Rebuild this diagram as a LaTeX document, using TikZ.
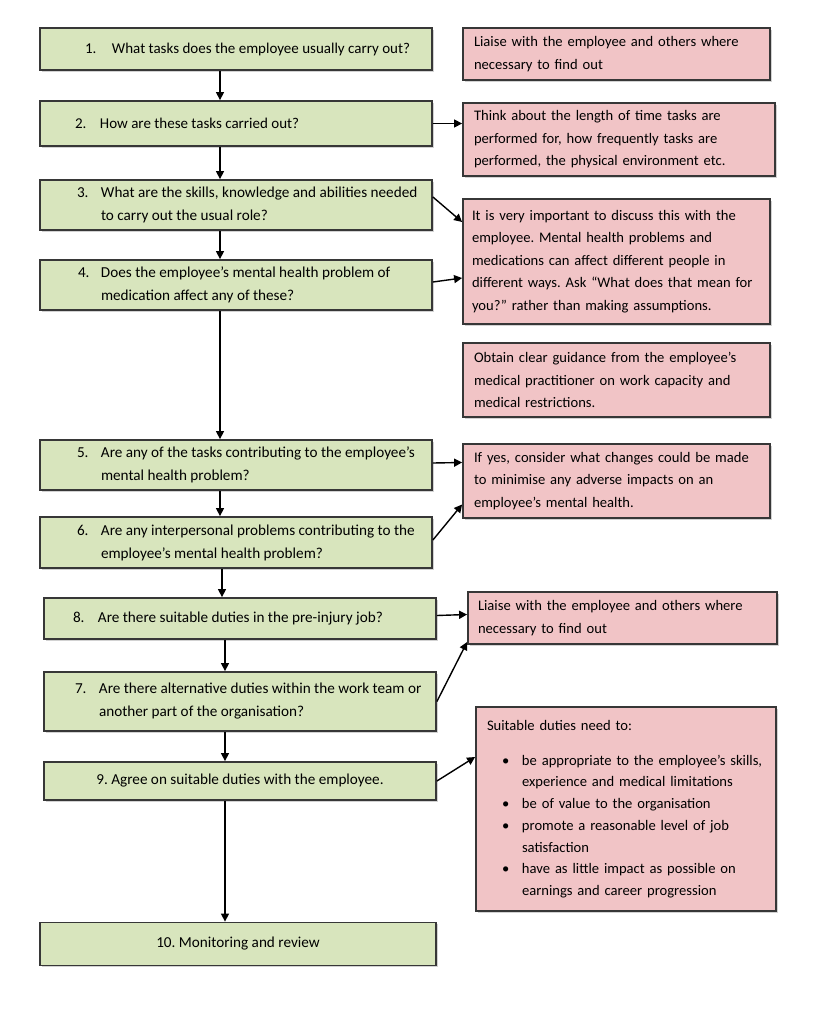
\documentclass[tikz,border=0pt]{standalone}
\usepackage{fontspec}
\setmainfont{Carlito}
\usetikzlibrary{arrows.meta,shadows,calc}
\definecolor{gfill}{RGB}{216,229,189}
\definecolor{pfill}{RGB}{241,196,198}
\definecolor{bord}{RGB}{55,55,55}
\frenchspacing
% numbered item in a green box: #1 box width, #2 lead, #3 number width, #4 number, #5 text
\newcommand{\qitem}[5]{\makebox[#1][l]{\hspace*{#2}\makebox[#3][l]{#4}\parbox[t]{\dimexpr#1-#2-#3\relax}{\raggedright #5}}}
\newcommand{\bitem}[1]{\hangindent=35pt\hangafter=1\hspace*{15pt}\makebox[20pt][l]{\textbullet}#1\par}
\begin{document}
\begin{tikzpicture}[x=1pt,y=-1pt,
  box/.style={draw=bord, line width=1.8pt, rectangle, inner ysep=0pt,
    font=\fontsize{15.2}{23}\selectfont,
    drop shadow={shadow xshift=1.5pt, shadow yshift=-1.5pt, opacity=0.35}},
  gbox/.style={box, fill=gfill, inner xsep=0pt},
  pbox/.style={box, fill=pfill, align=left, inner xsep=11pt,
    font=\fontsize{14.6}{22.5}\selectfont},
  arr/.style={line width=1.4pt, -{Triangle[length=8pt,width=8pt]}}]
\useasboundingbox[fill=white] (0,0) rectangle (816,1017);

% green boxes
\node[gbox, minimum width=392pt, minimum height=42pt, font=\fontsize{15}{23}\selectfont] (b1) at (236,49)
  {\qitem{392pt}{45pt}{27pt}{1.}{What tasks does the employee usually carry out?}};
\node[gbox, minimum width=392pt, minimum height=45pt, font=\fontsize{15}{23}\selectfont] (b2) at (236,123.5)
  {\qitem{392pt}{35pt}{25pt}{2.}{How are these tasks carried out?}};
\node[gbox, minimum width=392pt, minimum height=50pt] (b3) at (236,205)
  {\qitem{392pt}{37pt}{24pt}{3.}{What are the skills, knowledge and abilities needed\\to carry out the usual role?}};
\node[gbox, minimum width=392pt, minimum height=50pt] (b4) at (236,285)
  {\qitem{392pt}{38pt}{23pt}{4.}{Does the employee’s mental health problem of\\medication affect any of these?}};
\node[gbox, minimum width=392pt, minimum height=50pt] (b5) at (236,465)
  {\qitem{392pt}{37pt}{24pt}{5.}{Are any of the tasks contributing to the employee’s\\mental health problem?}};
\node[gbox, minimum width=392pt, minimum height=51pt] (b6) at (236,542.5)
  {\qitem{392pt}{37pt}{24pt}{6.}{Are any interpersonal problems contributing to the\\employee’s mental health problem?}};
\node[gbox, minimum width=392pt, minimum height=41pt] (b8) at (240,618.5)
  {\qitem{392pt}{29pt}{25pt}{8.}{Are there suitable duties in the pre-injury job?}};
\node[gbox, minimum width=392pt, minimum height=59pt] (b7) at (240,701.5)
  {\qitem{392pt}{31pt}{24pt}{7.}{Are there alternative duties within the work team or\\another part of the organisation?}};
\node[gbox, minimum width=392pt, minimum height=38pt] (b9) at (240,781)
  {9. Agree on suitable duties with the employee.};
\node[gbox, minimum width=396pt, minimum height=43pt] (b10) at (238,944)
  {10. Monitoring and review};

% pink boxes
\node[pbox, text width=285pt, minimum height=52pt] (pA) at (616.5,54)
  {Liaise with the employee and others where\\necessary to find out};
\node[pbox, text width=290pt, minimum height=73pt] (pB) at (619,139.5)
  {Think about the length of time tasks are\\performed for, how frequently tasks are\\performed, the physical environment etc.};
\node[pbox, inner xsep=9pt, text width=289pt, minimum height=125pt] (pC) at (616.5,261.5)
  {It is very important to discuss this with the\\employee. Mental health problems and\\medications can affect different people in\\different ways. Ask “What does that mean for\\you?” rather than making assumptions.};
\node[pbox, text width=285pt, minimum height=74pt] (pD) at (616.5,380)
  {Obtain clear guidance from the employee’s\\medical practitioner on work capacity and\\medical restrictions.};
\node[pbox, text width=285pt, minimum height=74pt] (pE) at (616.5,481)
  {If yes, consider what changes could be made\\to minimise any adverse impacts on an\\employee’s mental health.};
\node[pbox, text width=289pt, inner xsep=10pt, minimum height=52pt] (pF) at (622.5,618)
  {Liaise with the employee and others where\\necessary to find out};
\node[pbox, inner xsep=11pt, text width=278pt, minimum height=204pt, font=\fontsize{14.6}{21.7}\selectfont] (pG) at (626,809)
  {\raggedright Suitable duties need to:\par\vspace{13.3pt}
   \bitem{be appropriate to the employee’s skills,\newline experience and medical limitations}
   \bitem{be of value to the organisation}
   \bitem{promote a reasonable level of job\newline satisfaction}
   \bitem{have as little impact as possible on\newline earnings and career progression}};

% column coordinates for the vertical connectors
\coordinate (colA) at (220,0);
\coordinate (colB) at (222,0);
\coordinate (colC) at (225,0);

\draw[arr] (b1.south -| colA) -- (b2.north -| colA);
\draw[arr] (b2.south -| colA) -- (b3.north -| colA);
\draw[arr] (b3.south -| colA) -- (b4.north -| colA);
\draw[arr] (b4.south -| colA) -- (b5.north -| colA);
\draw[arr] (b5.south -| colA) -- (b6.north -| colA);
\draw[arr] (b6.south -| colB) -- (b8.north -| colB);
\draw[arr] (b8.south -| colC) -- (b7.north -| colC);
\draw[arr] (b7.south -| colC) -- (b9.north -| colC);
\draw[arr] (b9.south -| colC) -- (b10.north -| colC);

% side connectors
\draw[arr] (b2.east) -- ([yshift=16pt]pB.west);
\draw[arr] ([yshift=8pt]b3.east) -- ([yshift=39.5pt]pC.west);
\draw[arr] ([yshift=3pt]b4.east) -- ([yshift=-16.5pt]pC.west);
\draw[arr] ([yshift=2pt]b5.east) -- ([yshift=18.5pt]pE.west);
\draw[arr] ([yshift=2.5pt]b6.east) -- ([yshift=-23.5pt]pE.west);
\draw[arr] ([yshift=3pt]b8.east) -- ([yshift=3.5pt]pF.west);
\draw[arr] (b7.east) -- ([yshift=-24pt]pF.west);
\draw[arr] (b9.east) -- ([yshift=52pt]pG.west);
\end{tikzpicture}
\end{document}
